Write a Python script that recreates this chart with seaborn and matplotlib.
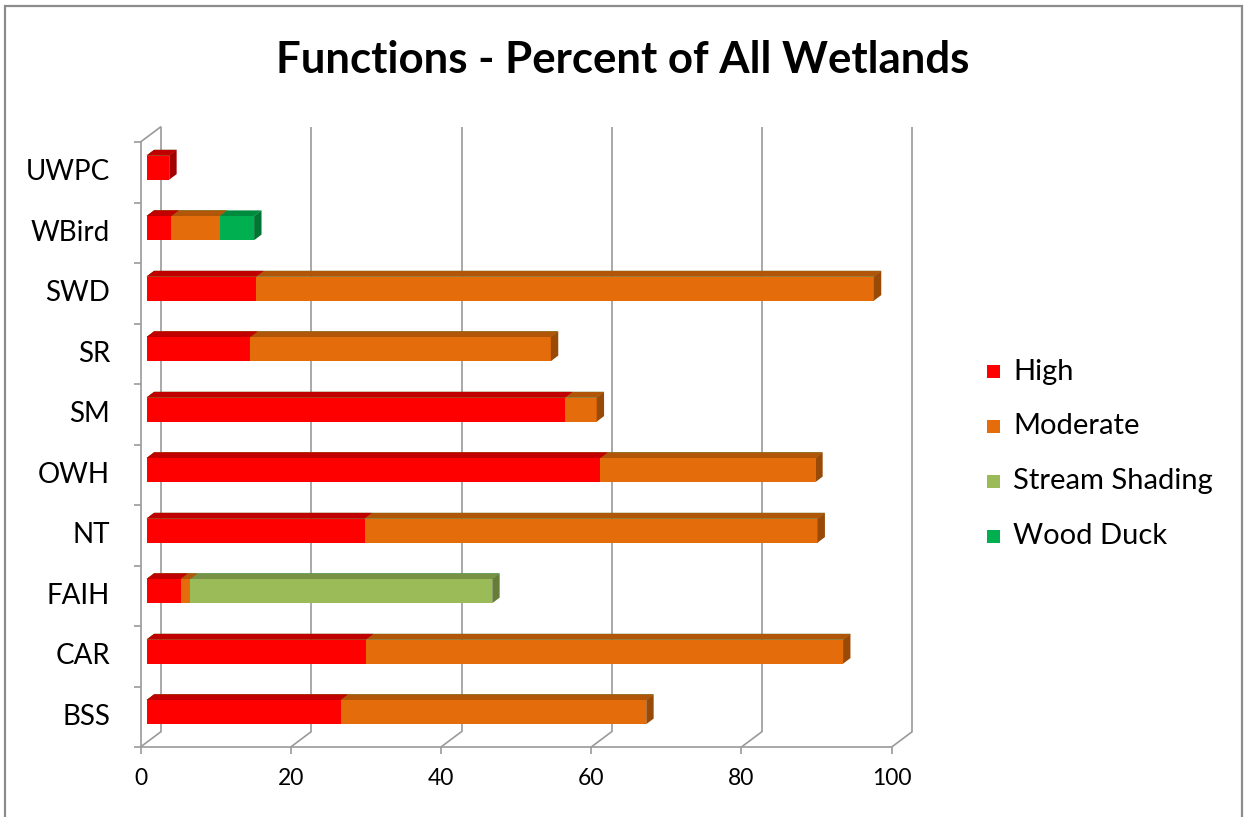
import matplotlib
matplotlib.use("Agg")
import matplotlib.pyplot as plt
from matplotlib.patches import Polygon, Rectangle
import seaborn as sns
import pandas as pd
import numpy as np

# values (percent of all wetlands)
functions = ["UWPC", "WBird", "SWD", "SR", "SM", "OWH", "NT", "FAIH", "CAR", "BSS"]
high = [3.0, 3.3, 14.6, 13.8, 55.7, 60.4, 29.0, 4.5, 29.2, 25.8]
moderate = [0.0, 6.4, 82.2, 40.0, 4.2, 28.6, 60.3, 1.3, 63.5, 40.7]
stream_shading = [0.0, 0.0, 0.0, 0.0, 0.0, 0.0, 0.0, 40.2, 0.0, 0.0]
wood_duck = [0.0, 4.6, 0.0, 0.0, 0.0, 0.0, 0.0, 0.0, 0.0, 0.0]
xticks = [0, 20, 40, 60, 80, 100]

series = ["High", "Moderate", "Stream Shading", "Wood Duck"]
front_colors = ["#FF0000", "#E46C0A", "#9BBB59", "#00B050"]
top_colors = ["#C00000", "#B15608", "#789245", "#008A3D"]
side_colors = ["#A30000", "#9A4A07", "#667D3A", "#007433"]
GRID = "#9a9a9a"

sns.set_style("white")
plt.rcParams["font.family"] = ["Lato", "DejaVu Sans"]

W, H = 1244, 817
fig = plt.figure(figsize=(W / 100, H / 100), dpi=100)
# axes = plane of the bar front faces
ax = fig.add_axes([146.7 / W, (H - 742.35) / H, 751.2 / W, 605 / H])

df = pd.DataFrame({"Function": functions, "High": high, "Moderate": moderate,
                   "Stream Shading": stream_shading, "Wood Duck": wood_duck})
cum = df[series].cumsum(axis=1)

ax.set_xlim(0, 100)
ax.set_ylim(9.5, -0.5)


def px(dx, dy):
    # pixel offset (right, up) -> data offset
    bb = ax.get_window_extent()
    x0, x1 = ax.get_xlim()
    y0, y1 = ax.get_ylim()
    return dx * (x1 - x0) / bb.width, dy * (y1 - y0) / bb.height


fx, fy = px(-6.2, -4.65)   # floor front / left wall front
bx, by = px(14.5, 10.85)   # back wall
ddx, ddy = px(7.4, 5.6)    # bar depth

# outermost stack layer first, inner layers drawn on top
last_patches = None
for j, k in enumerate(reversed(range(len(series)))):
    n0 = len(ax.patches)
    sns.barplot(x=cum[series[k]], y=df["Function"], order=functions,
                color=front_colors[k], saturation=1, width=0.4, orient="h",
                errorbar=None, linewidth=0, zorder=3 + j, ax=ax)
    new = ax.patches[n0:]
    if j == 0:
        last_patches = list(new)
    for p in new:
        x0, x1 = p.get_x(), p.get_x() + p.get_width()
        yt = p.get_y()
        if x1 <= x0:
            continue
        ax.add_patch(Polygon([(x0, yt), (x1, yt), (x1 + ddx, yt + ddy), (x0 + ddx, yt + ddy)],
                             closed=True, fc=top_colors[k], ec="none", zorder=3 + j, clip_on=False))

# right-hand side face coloured after the last non-empty segment
for i, p in enumerate(last_patches):
    vals = [df.loc[i, s] for s in series]
    k = max(idx for idx, v in enumerate(vals) if v > 0)
    x1 = p.get_x() + p.get_width()
    yt, yb = p.get_y(), p.get_y() + p.get_height()
    ax.add_patch(Polygon([(x1, yt), (x1, yb), (x1 + ddx, yb + ddy), (x1 + ddx, yt + ddy)],
                         closed=True, fc=side_colors[k], ec="none", zorder=10, clip_on=False))

ax.set_xlim(0, 100)
ax.set_ylim(9.5, -0.5)
ax.set_axis_off()

lkw = dict(color=GRID, lw=1.2, clip_on=False, solid_capstyle="butt", zorder=1)
# back wall gridlines
for xv in xticks:
    ax.plot([xv + bx, xv + bx], [-0.5 + by, 9.5 + by], **lkw)
    ax.plot([xv + fx, xv + bx], [9.5 + fy, 9.5 + by], **lkw)
    ax.plot([xv + fx, xv + fx], [9.5 + fy, 9.5 + fy + px(0, -7)[1]], **lkw)
    ax.text(xv + fx, 9.5 + fy + px(0, -31)[1], str(xv), ha="center", va="center",
            fontsize=16.5, color="#000000")
# floor front edge
ax.plot([fx, 100 + fx], [9.5 + fy, 9.5 + fy], **lkw)
# left wall
ax.plot([fx, fx], [-0.5 + fy, 9.5 + fy], **lkw)
ax.plot([fx, bx], [-0.5 + fy, -0.5 + by], **lkw)
for b in np.arange(-0.5, 10, 1.0):
    ax.plot([fx + px(-7, 0)[0], fx], [b + fy, b + fy], **lkw)

for i, name in enumerate(functions):
    ax.text(fx + px(-30.5, 0)[0], i + fy, name, ha="right", va="center",
            fontsize=20, color="#000000")

fig.text(623 / W, 1 - 60 / H, "Functions - Percent of All Wetlands", ha="center", va="center",
         fontsize=31.5, fontweight="bold", color="#000000")

# legend
leg_y = [372, 426, 481, 536]
for name, col, yy in zip(series, front_colors, leg_y):
    fig.patches.append(Rectangle(((987) / W, 1 - (yy + 6.5) / H), 13 / W, 13 / H,
                                 transform=fig.transFigure, fc=col, ec="none"))
    fig.text(1013 / W, 1 - yy / H, name, ha="left", va="center", fontsize=21, color="#000000")

# chart border
fig.patches.append(Rectangle((5 / W, -0.02), 1237 / W, 1.02 - 6 / H, transform=fig.transFigure,
                             fill=False, ec="#8c8c8c", lw=1.6))

fig.savefig("out.png", dpi=100)
